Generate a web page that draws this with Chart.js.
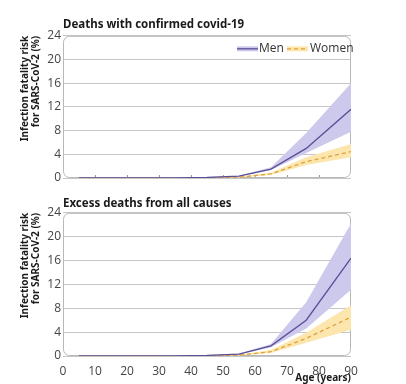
<!DOCTYPE html>
<html>
<head>
<meta charset="utf-8">
<script src="https://cdn.jsdelivr.net/npm/chart.js@4/dist/chart.umd.min.js"></script>
<style>
  body { margin: 0; background: #fff; }
  #wrap { width: 406px; height: 384px; }
  canvas { display: block; }
</style>
</head>
<body>
<div id="wrap">
  <canvas id="top" width="406" height="192"></canvas>
  <canvas id="bottom" width="406" height="192"></canvas>
</div>
<script>
// age at which each estimate is plotted
const ages = [5, 15, 25, 35, 45, 55, 65, 76, 90];
const xTicks = [0, 10, 20, 30, 40, 50, 60, 70, 80, 90];
const yTicks = [0, 4, 8, 12, 16, 20, 24];

// Deaths with confirmed covid-19 (%)
const confMen      = [0.001, 0.003, 0.008, 0.03, 0.1, 0.3, 1.5, 5.0, 11.6];
const confMenLow   = [0.001, 0.002, 0.006, 0.02, 0.08, 0.25, 1.35, 4.2, 7.8];
const confMenHigh  = [0.002, 0.004, 0.01, 0.04, 0.13, 0.4, 1.8, 7.6, 16.0];
const confWomen     = [0.001, 0.002, 0.004, 0.01, 0.03, 0.12, 0.7, 2.75, 4.45];
const confWomenLow  = [0.001, 0.001, 0.003, 0.008, 0.02, 0.08, 0.5, 2.2, 3.5];
const confWomenHigh = [0.002, 0.003, 0.006, 0.02, 0.05, 0.18, 0.9, 3.5, 5.75];

// Excess deaths from all causes (%)
const excMen      = [0.001, 0.003, 0.01, 0.03, 0.1, 0.3, 1.7, 6.0, 16.4];
const excMenLow   = [0.001, 0.002, 0.008, 0.02, 0.08, 0.25, 1.45, 4.6, 11.1];
const excMenHigh  = [0.002, 0.004, 0.012, 0.04, 0.13, 0.4, 2.0, 9.0, 22.2];
const excWomen     = [0.001, 0.002, 0.004, 0.01, 0.04, 0.12, 0.72, 2.95, 6.5];
const excWomenLow  = [0.001, 0.001, 0.003, 0.008, 0.03, 0.08, 0.5, 2.2, 4.4];
const excWomenHigh = [0.002, 0.003, 0.006, 0.02, 0.06, 0.2, 1.0, 3.9, 8.5];

const seriesNames = ['Men', 'Women'];
const yTitle = ['Infection fatality risk', 'for SARS-CoV-2 (%)'];
const xTitle = 'Age (years)';

const MEN_LINE = '#5b4f98', MEN_BAND = '#cdc9ec';
const WOMEN_LINE = '#e0a13a', WOMEN_BAND = '#fce6ad';

const pts = arr => arr.map((v, i) => ({ x: ages[i], y: v }));

// rounded frame around the plot, plus small x tick marks (drawn under the lines)
const framePlugin = {
  id: 'frame',
  beforeDatasetsDraw(chart, args, opts) {
    const { ctx, chartArea: a } = chart;
    ctx.save();
    if (opts.tickMarks) {
      const xs = chart.scales.x;
      ctx.strokeStyle = '#9a9a9a';
      ctx.lineWidth = 1;
      xTicks.slice(1, -1).forEach(t => {
        const px = Math.round(xs.getPixelForValue(t)) + 0.5;
        ctx.beginPath();
        ctx.moveTo(px, a.bottom);
        ctx.lineTo(px, a.bottom - 3);
        ctx.stroke();
      });
    }
    ctx.strokeStyle = '#b8b8b8';
    ctx.lineWidth = 1;
    ctx.beginPath();
    ctx.roundRect(a.left + 0.5, a.top + 0.5, a.right - a.left - 1, a.bottom - a.top - 1, 6);
    ctx.stroke();
    ctx.restore();
  }
};

// legend drawn inside the plot, top right
const insideLegend = {
  id: 'insideLegend',
  afterDraw(chart, args, opts) {
    if (!opts.show) return;
    const { ctx, chartArea: a } = chart;
    const y = a.top + 13;
    ctx.save();
    ctx.font = '12px "Open Sans"';
    ctx.textBaseline = 'middle';
    // Men
    let x = a.left + 174;
    ctx.fillStyle = MEN_BAND;
    ctx.fillRect(x, y - 2.5, 21, 5);
    ctx.strokeStyle = MEN_LINE;
    ctx.lineWidth = 1.3;
    ctx.beginPath(); ctx.moveTo(x, y); ctx.lineTo(x + 21, y); ctx.stroke();
    ctx.fillStyle = '#333';
    ctx.fillText(seriesNames[0], x + 22, y);
    // Women
    x = a.left + 224;
    ctx.fillStyle = WOMEN_BAND;
    ctx.fillRect(x, y - 2.5, 21, 5);
    ctx.strokeStyle = WOMEN_LINE;
    ctx.setLineDash([4, 3]);
    ctx.beginPath(); ctx.moveTo(x, y); ctx.lineTo(x + 21, y); ctx.stroke();
    ctx.setLineDash([]);
    ctx.fillStyle = '#333';
    ctx.fillText(seriesNames[1], x + 23, y);
    ctx.restore();
  }
};

function makeChart(id, title, men, menLo, menHi, women, womenLo, womenHi, isBottom) {
  const band = (data, color, fill) => ({
    data: pts(data), backgroundColor: color, borderWidth: 0,
    pointRadius: 0, fill: fill, order: 2
  });
  return new Chart(document.getElementById(id), {
    type: 'line',
    data: {
      datasets: [
        band(menHi, MEN_BAND, '+1'),
        band(menLo, MEN_BAND, false),
        band(womenHi, WOMEN_BAND, '+1'),
        band(womenLo, WOMEN_BAND, false),
        { label: seriesNames[0], data: pts(men), borderColor: MEN_LINE, borderWidth: 1.3,
          pointRadius: 0, fill: false, order: 0 },
        { label: seriesNames[1], data: pts(women), borderColor: WOMEN_LINE, borderWidth: 1.3,
          borderDash: [4, 3], pointRadius: 0, fill: false, order: 1 }
      ]
    },
    options: {
      responsive: false,
      animation: false,
      devicePixelRatio: 1,
      layout: { padding: { top: isBottom ? 5 : 18, right: 55, bottom: isBottom ? 0 : 14, left: 0 } },
      plugins: {
        legend: { display: false },
        tooltip: { enabled: false },
        title: {
          display: true, text: title, align: 'start', fullSize: false,
          color: '#1a1a1a', font: { family: '"Noto Sans"', size: 11.5, weight: 'bold', lineHeight: 1.2 },
          padding: { top: 0, bottom: isBottom ? 2 : 4 }
        },
        frame: { tickMarks: !isBottom },
        insideLegend: { show: !isBottom }
      },
      scales: {
        x: {
          type: 'linear', min: 0, max: 90,
          afterBuildTicks: s => { s.ticks = xTicks.map(v => ({ value: v })); },
          afterFit: s => { s.height = isBottom ? 28 : 0; },
          grid: { display: false },
          border: { display: false },
          ticks: { display: isBottom, padding: 0, color: '#444',
                   font: { family: '"Open Sans"', size: 12 } },
          title: { display: isBottom, text: xTitle, align: 'end', color: '#1a1a1a',
                   padding: { top: 0, bottom: 0 },
                   font: { family: '"Noto Sans"', size: 10, weight: 'bold' } }
        },
        y: {
          min: 0, max: 24,
          afterBuildTicks: s => { s.ticks = yTicks.map(v => ({ value: v })); },
          afterFit: s => { s.width = 63; },
          grid: { color: '#c6c6c6', drawTicks: false, lineWidth: 1 },
          border: { display: false },
          ticks: { padding: 2, color: '#444', font: { family: '"Open Sans"', size: 12 } },
          title: { display: true, text: yTitle, align: 'end', color: '#1a1a1a',
                   padding: { top: 19, bottom: 0 },
                   font: { family: '"Noto Sans"', size: 10, weight: 'bold', lineHeight: 1.15 } }
        }
      }
    },
    plugins: [framePlugin, insideLegend]
  });
}

makeChart('top', 'Deaths with confirmed covid-19',
  confMen, confMenLow, confMenHigh, confWomen, confWomenLow, confWomenHigh, false);
makeChart('bottom', 'Excess deaths from all causes',
  excMen, excMenLow, excMenHigh, excWomen, excWomenLow, excWomenHigh, true);
</script>
</body>
</html>
